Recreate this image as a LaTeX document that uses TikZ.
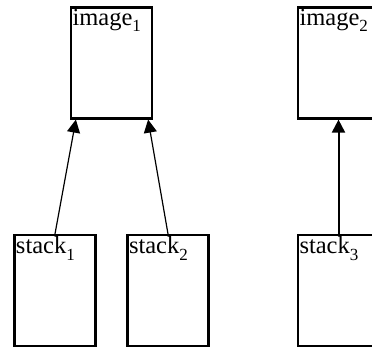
\documentclass[tikz,border=0pt]{standalone}
\usepackage{fontspec}
\setmainfont{Liberation Serif}
\usepackage{tikz}
\usetikzlibrary{arrows.meta}
\newcommand{\sub}[1]{\raisebox{-6.7pt}{\fontsize{17}{17}\selectfont #1}}
\tikzset{%
    box/.style={draw=black,line width=2.2pt,minimum width=81pt,minimum height=111pt,inner sep=0pt},
    lbl/.style={anchor=north west,inner sep=2.4pt,font=\fontsize{24.5}{28}\selectfont}
}

\begin{document}
\begin{tikzpicture}[x=1pt,y=1pt,arr/.style={-{Triangle[length=13pt,width=13pt]}}]
        \useasboundingbox (0,0) rectangle (372,-348);
        \clip (0,0) rectangle (372,-348);
        \node[box,label={[lbl]north west:image\sub{1}}] (i1) at (111.5,-63){};
        \node[box,label={[lbl]north west:image\sub{2}}] (i2) at (338.5,-63){};
        \node[box,label={[lbl]north west:stack\sub{1}}] (s1) at (55,-290.5){};
        \node[box,label={[lbl]north west:stack\sub{2}}] (s2) at (168,-290.5){};
        \node[box,label={[lbl]north west:stack\sub{3}}] (s3) at (338.5,-290.5){};

        \path[]
            (s1.north) edge[arr,line width=1.2pt] ([xshift=6pt]i1.south west)
            (s2.north) edge[arr,line width=1.2pt] ([xshift=-5pt]i1.south east)
            (s3.north) edge[arr,line width=2pt] (i2.south);
    \end{tikzpicture}
\end{document}
